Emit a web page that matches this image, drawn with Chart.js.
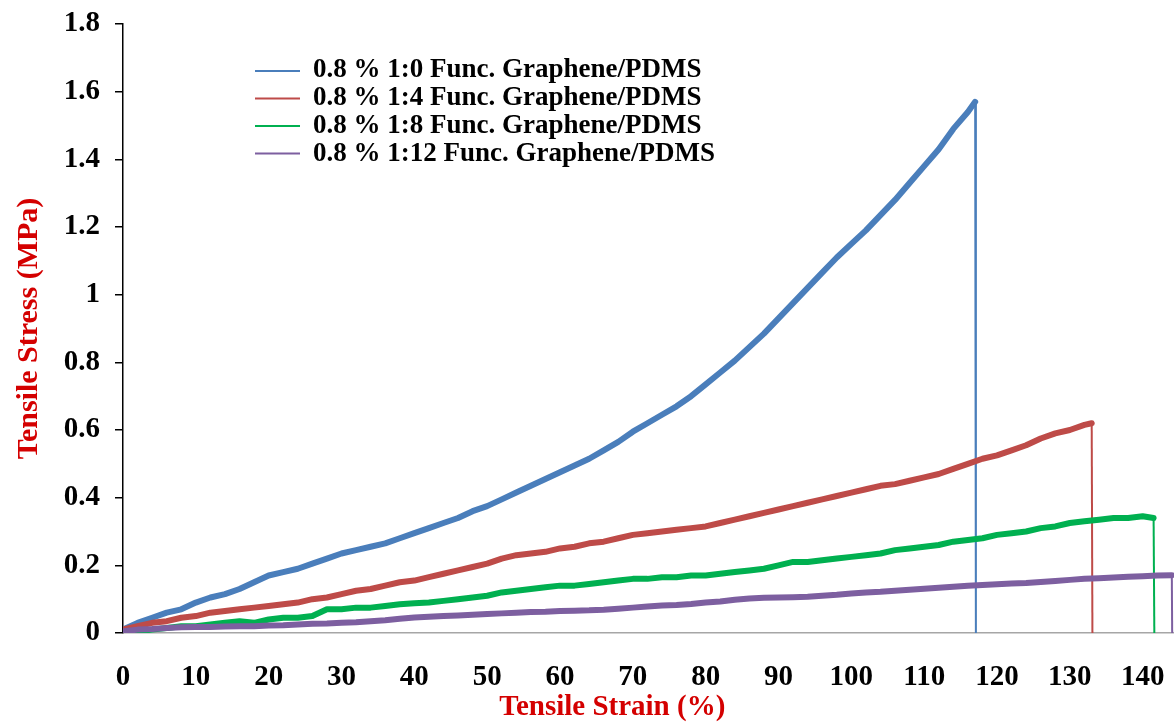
<!DOCTYPE html>
<html>
<head>
<meta charset="utf-8">
<script src="https://cdn.jsdelivr.net/npm/chart.js@4.4.1/dist/chart.umd.min.js"></script>
<style>
  html, body { margin: 0; padding: 0; background: #ffffff; }
  #wrap { width: 1174px; height: 725px; position: relative; }
</style>
</head>
<body>
<div id="wrap"><canvas id="c" width="1174" height="725"></canvas></div>
<script>
// ---- data ----
const seriesLabels = [
  '0.8 % 1:0 Func. Graphene/PDMS',
  '0.8 % 1:4 Func. Graphene/PDMS',
  '0.8 % 1:8 Func. Graphene/PDMS',
  '0.8 % 1:12 Func. Graphene/PDMS'
];
const seriesColors = ['#4A7EBB', '#BE4B48', '#00B050', '#7D5FA0'];

const xTickLabels = ['0','10','20','30','40','50','60','70','80','90','100','110','120','130','140'];
const yTickLabels = ['0','0.2','0.4','0.6','0.8','1','1.2','1.4','1.6','1.8'];

const strain1 = [0,2,4,6,8,10,12,14,16,18,20,22,24,26,28,30,32,34,36,38,40,42,44,46,48,50,52,54,56,58,60,62,64,66,68,70,72,74,76,78,80,82,84,86,88,90,92,94,96,98,100,102,104,106,108,110,112,114,116,117,117.1];
const stress1 = [0.01,0.03,0.045,0.06,0.07,0.09,0.105,0.115,0.13,0.15,0.17,0.18,0.19,0.205,0.22,0.235,0.245,0.255,0.265,0.28,0.295,0.31,0.325,0.34,0.36,0.375,0.395,0.415,0.435,0.455,0.475,0.495,0.515,0.54,0.565,0.595,0.62,0.645,0.67,0.70,0.735,0.77,0.805,0.845,0.885,0.93,0.975,1.02,1.065,1.11,1.15,1.19,1.235,1.28,1.33,1.38,1.43,1.49,1.54,1.57,0];

const strain2 = [0,2,4,6,8,10,12,14,16,18,20,22,24,26,28,30,32,34,36,38,40,42,44,46,48,50,52,54,56,58,60,62,64,66,68,70,72,74,76,78,80,82,84,86,88,90,92,94,96,98,100,102,104,106,108,110,112,114,116,118,120,122,124,126,128,130,132,133,133.1];
const stress2 = [0.01,0.02,0.03,0.035,0.045,0.05,0.06,0.065,0.07,0.075,0.08,0.085,0.09,0.1,0.105,0.115,0.125,0.13,0.14,0.15,0.155,0.165,0.175,0.185,0.195,0.205,0.22,0.23,0.235,0.24,0.25,0.255,0.265,0.27,0.28,0.29,0.295,0.3,0.305,0.31,0.315,0.325,0.335,0.345,0.355,0.365,0.375,0.385,0.395,0.405,0.415,0.425,0.435,0.44,0.45,0.46,0.47,0.485,0.5,0.515,0.525,0.54,0.555,0.575,0.59,0.6,0.615,0.62,0];

const strain3 = [0,2,4,6,8,10,12,14,16,18,20,22,24,26,28,30,32,34,36,38,40,42,44,46,48,50,52,54,56,58,60,62,64,66,68,70,72,74,76,78,80,82,84,86,88,90,92,94,96,98,100,102,104,106,108,110,112,114,116,118,120,122,124,126,128,130,132,134,136,138,140,141.5,141.6];
const stress3 = [0,0.005,0.01,0.015,0.02,0.02,0.025,0.03,0.035,0.03,0.04,0.045,0.045,0.05,0.07,0.07,0.075,0.075,0.08,0.085,0.088,0.09,0.095,0.1,0.105,0.11,0.12,0.125,0.13,0.135,0.14,0.14,0.145,0.15,0.155,0.16,0.16,0.165,0.165,0.17,0.17,0.175,0.18,0.185,0.19,0.2,0.21,0.21,0.215,0.22,0.225,0.23,0.235,0.245,0.25,0.255,0.26,0.27,0.275,0.28,0.29,0.295,0.3,0.31,0.315,0.325,0.33,0.335,0.34,0.34,0.345,0.34,0];

const strain4 = [0,2,4,6,8,10,12,14,16,18,20,22,24,26,28,30,32,34,36,38,40,42,44,46,48,50,52,54,56,58,60,62,64,66,68,70,72,74,76,78,80,82,84,86,88,90,92,94,96,98,100,102,104,106,108,110,112,114,116,118,120,122,124,126,128,130,132,134,136,138,140,142,144,144.05];
const stress4 = [0.005,0.01,0.012,0.015,0.017,0.018,0.018,0.019,0.02,0.02,0.022,0.023,0.025,0.027,0.028,0.03,0.032,0.035,0.038,0.042,0.046,0.048,0.05,0.052,0.054,0.056,0.058,0.06,0.062,0.063,0.065,0.066,0.067,0.069,0.072,0.075,0.078,0.081,0.083,0.086,0.09,0.093,0.098,0.102,0.104,0.105,0.106,0.107,0.11,0.113,0.117,0.12,0.122,0.125,0.128,0.131,0.134,0.137,0.14,0.142,0.144,0.146,0.148,0.151,0.154,0.157,0.16,0.162,0.164,0.166,0.168,0.17,0.171,0];

const strains = [strain1, strain2, strain3, strain4];
const stresses = [stress1, stress2, stress3, stress4];

// ---- build chart ----
const FONT = '"Liberation Serif", "Times New Roman", serif';

function makeDataset(i) {
  const xs = strains[i], ys = stresses[i];
  const pts = xs.map((x, k) => ({ x: x, y: ys[k] }));
  const last = pts.length - 1;
  return {
    label: seriesLabels[i],
    data: pts,
    borderColor: seriesColors[i],
    backgroundColor: seriesColors[i],
    borderWidth: 6,
    borderCapStyle: 'round',
    borderJoinStyle: 'round',
    pointRadius: 0,
    tension: 0,
    fill: false,
    order: 3 - i,
    segment: {
      borderWidth: ctx => (ctx.p1DataIndex === last ? 2 : undefined),
      borderCapStyle: ctx => (ctx.p1DataIndex === last ? 'butt' : undefined)
    }
  };
}

const customLegend = {
  id: 'customLegend',
  afterDraw(chart) {
    const ctx = chart.ctx;
    const lineY = [71, 98.5, 126, 153.5];
    const baseY = [77, 105, 133, 161];
    ctx.save();
    chart.data.datasets.forEach((ds, i) => {
      ctx.strokeStyle = ds.borderColor;
      ctx.lineWidth = 2;
      ctx.beginPath();
      ctx.moveTo(255, lineY[i]);
      ctx.lineTo(300, lineY[i]);
      ctx.stroke();
      ctx.fillStyle = '#000000';
      ctx.font = 'bold 27px ' + FONT;
      ctx.textAlign = 'left';
      ctx.textBaseline = 'alphabetic';
      ctx.fillText(ds.label, 313, baseY[i]);
    });
    ctx.restore();
  }
};

new Chart(document.getElementById('c'), {
  type: 'line',
  data: { datasets: [0, 1, 2, 3].map(makeDataset) },
  options: {
    responsive: false,
    devicePixelRatio: 1,
    animation: false,
    parsing: true,
    layout: { padding: { top: 24, left: 0, right: 0, bottom: 0 } },
    plugins: {
      legend: { display: false },
      tooltip: { enabled: false },
      title: { display: false }
    },
    scales: {
      x: {
        type: 'linear',
        min: 0,
        max: 144.3,
        afterFit: s => { s.height = 92; s.paddingLeft = 0; s.paddingRight = 0; },
        ticks: {
          stepSize: 10,
          includeBounds: false,
          autoSkip: false,
          maxRotation: 0,
          padding: 27,
          color: '#000000',
          font: { family: FONT, size: 29, weight: 'bold' },
          callback: (v, i) => xTickLabels[i]
        },
        grid: { display: true, drawOnChartArea: false, drawTicks: false },
        border: { display: true, color: '#a6a6a6', width: 1.5 },
        title: {
          display: true,
          text: 'Tensile Strain (%)' + '\u00A0'.repeat(10),
          color: '#d40000',
          font: { family: FONT, size: 29, weight: 'bold' },
          padding: { top: 0, bottom: 0 }
        }
      },
      y: {
        type: 'linear',
        min: 0,
        max: 1.8,
        afterFit: s => { s.width = 123; s.paddingTop = 0; s.paddingBottom = 0; },
        ticks: {
          stepSize: 0.2,
          padding: 15,
          color: '#000000',
          font: { family: FONT, size: 29, weight: 'bold' },
          callback: (v, i) => yTickLabels[i]
        },
        grid: {
          display: true,
          drawOnChartArea: false,
          drawTicks: true,
          tickLength: 8,
          tickColor: '#000000',
          lineWidth: 1.5
        },
        border: { display: true, color: '#000000', width: 1.5 },
        title: {
          display: true,
          text: 'Tensile Stress (MPa)',
          color: '#d40000',
          font: { family: FONT, size: 30, weight: 'bold' },
          padding: { top: 11, bottom: 0 }
        }
      }
    }
  },
  plugins: [customLegend]
});
</script>
</body>
</html>
